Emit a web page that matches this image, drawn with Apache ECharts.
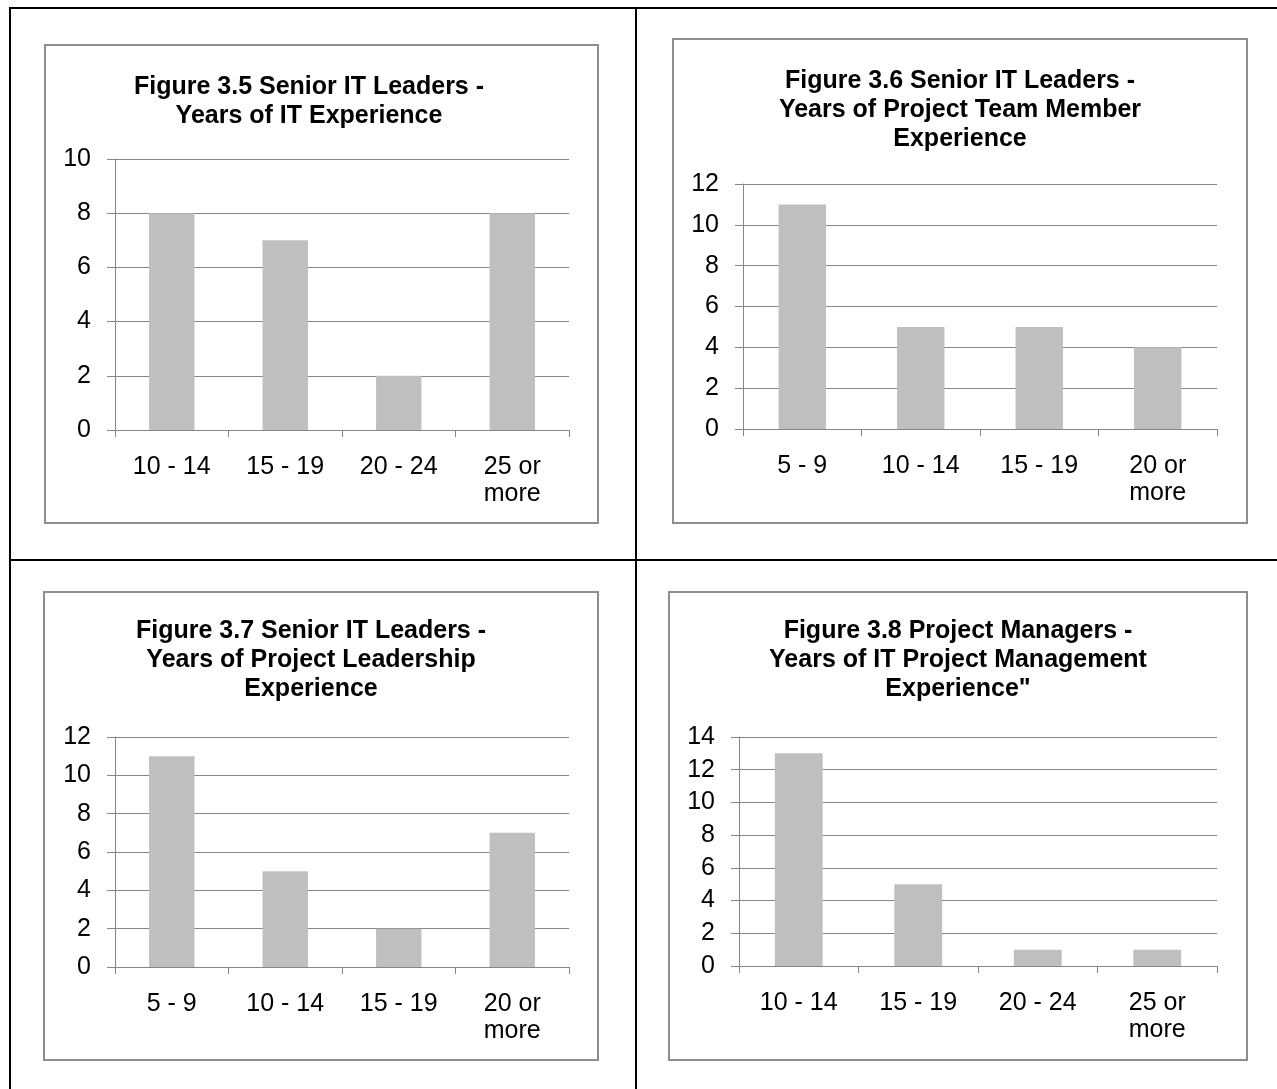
<!DOCTYPE html>
<html>
<head>
<meta charset="utf-8">
<style>
  html, body { margin: 0; padding: 0; background: #ffffff; }
  #chart { width: 1277px; height: 1089px; }
</style>
<script src="https://cdn.jsdelivr.net/npm/echarts@6/dist/echarts.min.js"></script>
</head>
<body>
<div id="chart"></div>
<script>
// Survey results: years of experience by group
const titles = [
  'Figure 3.5 Senior IT Leaders -\nYears of IT Experience',
  'Figure 3.6 Senior IT Leaders -\nYears of Project Team Member\nExperience',
  'Figure 3.7 Senior IT Leaders -\nYears of Project Leadership\nExperience',
  'Figure 3.8 Project Managers -\nYears of IT Project Management\nExperience"'
];
const catsItExp = ['10 - 14', '15 - 19', '20 - 24', '25 or\nmore'];
const valsItExp = [8, 7, 2, 8];
const catsTeamExp = ['5 - 9', '10 - 14', '15 - 19', '20 or\nmore'];
const valsTeamExp = [11, 5, 5, 4];
const catsLeadExp = ['5 - 9', '10 - 14', '15 - 19', '20 or\nmore'];
const valsLeadExp = [11, 5, 2, 7];
const catsPmExp = ['10 - 14', '15 - 19', '20 - 24', '25 or\nmore'];
const valsPmExp = [13, 5, 1, 1];
const yMax = [10, 12, 12, 14];
const yStep = 2;

const FONT = '"Liberation Sans", Arial, sans-serif';
const GRID_COLOR = '#868686';
const BAR_COLOR = '#bfbfbf';
const FRAME_COLOR = '#8e8e8e';

// panel layout: chart frame, plot area and title position
const panels = [
  { frame: [45, 45, 553, 478],  grid: [115, 159, 454, 271], titleX: 309, titleY: 73 },
  { frame: [673, 39, 574, 484], grid: [743, 184, 474, 245], titleX: 960, titleY: 67 },
  { frame: [44, 592, 554, 468], grid: [115, 737, 454, 230], titleX: 311, titleY: 617 },
  { frame: [669, 592, 578, 468], grid: [739, 737, 478, 229], titleX: 958, titleY: 617 }
];
const cats = [catsItExp, catsTeamExp, catsLeadExp, catsPmExp];
const vals = [valsItExp, valsTeamExp, valsLeadExp, valsPmExp];

const chart = echarts.init(document.getElementById('chart'), null, { renderer: 'canvas' });

const graphic = [];
// table rules
const tableLines = [
  [9, 8, 1277, 8],
  [10, 7, 10, 1089],
  [636, 7, 636, 1089],
  [9, 560, 1277, 560]
];
tableLines.forEach(l => graphic.push({
  type: 'line', z: 0,
  shape: { x1: l[0], y1: l[1], x2: l[2], y2: l[3] },
  style: { stroke: '#000000', lineWidth: 2 }
}));
// chart frames
panels.forEach(p => graphic.push({
  type: 'rect', z: 0,
  shape: { x: p.frame[0], y: p.frame[1], width: p.frame[2], height: p.frame[3] },
  style: { fill: 'none', stroke: FRAME_COLOR, lineWidth: 2 }
}));

const option = {
  animation: false,
  backgroundColor: '#ffffff',
  textStyle: { fontFamily: FONT },
  graphic: graphic,
  title: panels.map((p, i) => ({
    text: titles[i],
    left: p.titleX,
    top: p.titleY,
    padding: 0,
    textAlign: 'center',
    textStyle: { fontFamily: FONT, fontWeight: 'bold', fontSize: 25, lineHeight: 29, color: '#000000' }
  })),
  grid: panels.map(p => ({ left: p.grid[0], top: p.grid[1], width: p.grid[2], height: p.grid[3], containLabel: false })),
  xAxis: panels.map((p, i) => ({
    type: 'category',
    gridIndex: i,
    data: cats[i],
    boundaryGap: true,
    axisLine: { show: true, lineStyle: { color: GRID_COLOR, width: 1 } },
    axisTick: { show: true, length: 7, inside: false, lineStyle: { color: GRID_COLOR } },
    axisLabel: { fontFamily: FONT, fontSize: 25, lineHeight: 27, color: '#000000', margin: 24, interval: 0, align: 'center' },
    splitLine: { show: false }
  })),
  yAxis: panels.map((p, i) => ({
    type: 'value',
    gridIndex: i,
    min: 0,
    max: yMax[i],
    interval: yStep,
    axisLine: { show: true, lineStyle: { color: GRID_COLOR, width: 1 } },
    axisTick: { show: true, length: 8, inside: false, lineStyle: { color: GRID_COLOR } },
    axisLabel: { fontFamily: FONT, fontSize: 25, color: '#000000', margin: 24 },
    splitLine: { show: true, lineStyle: { color: GRID_COLOR, width: 1 } }
  })),
  series: panels.map((p, i) => ({
    type: 'bar',
    xAxisIndex: i,
    yAxisIndex: i,
    data: vals[i],
    barCategoryGap: '60%',
    itemStyle: { color: BAR_COLOR },
    z: 2
  }))
};

chart.setOption(option);
</script>
</body>
</html>
